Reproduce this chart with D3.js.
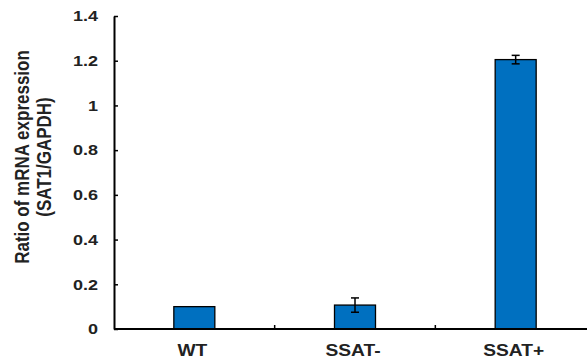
<!DOCTYPE html>
<html>
<head>
<meta charset="utf-8">
<script src="https://cdn.jsdelivr.net/npm/d3@7"></script>
<style>
  body { margin: 0; background: #fff; }
  svg { display: block; font-family: "Liberation Sans", Arial, sans-serif; font-weight: bold; }
</style>
</head>
<body>
<svg width="587" height="361"></svg>
<script>
var categories = ["WT", "SSAT-", "SSAT+"];
var values = [0.1, 0.107, 1.205];
var errors = [0, 0.032, 0.019];
var yTicks = [0, 0.2, 0.4, 0.6, 0.8, 1, 1.2, 1.4];
var yTitle = ["Ratio of mRNA expression", "(SAT1/GAPDH)"];

var margin = { top: 16, right: -9, bottom: 32, left: 114 };
var width = 587 - margin.left - margin.right;
var height = 361 - margin.top - margin.bottom;
var stretch = 1.2; // glyphs in the picture are a bit wide

var svg = d3.select("svg")
    .append("g")
    .attr("transform", "translate(" + margin.left + "," + margin.top + ")");

var x = d3.scaleBand().domain(categories).range([0, width]);
var y = d3.scaleLinear().domain([0, 1.4]).range([height, 0]);
var barW = 41;

// bars
svg.selectAll("rect.bar")
    .data(values)
    .enter().append("rect")
    .attr("class", "bar")
    .attr("x", function (d, i) { return x(categories[i]) + x.bandwidth() / 2 - barW / 2; })
    .attr("y", function (d) { return y(d); })
    .attr("width", barW)
    .attr("height", function (d) { return height - y(d); })
    .attr("fill", "#0070C0")
    .attr("stroke", "#000")
    .attr("stroke-width", 1.3);

// error bars
values.forEach(function (d, i) {
    if (!errors[i]) return;
    var cx = x(categories[i]) + x.bandwidth() / 2;
    var e = errors[i];
    var g = svg.append("g").attr("class", "err");
    g.append("line").attr("x1", cx).attr("x2", cx).attr("y1", y(d + e)).attr("y2", y(d - e));
    g.append("line").attr("x1", cx - 4).attr("x2", cx + 4).attr("y1", y(d + e)).attr("y2", y(d + e));
    g.append("line").attr("x1", cx - 4).attr("x2", cx + 4).attr("y1", y(d - e)).attr("y2", y(d - e));
    g.selectAll("line").attr("stroke", "#000").attr("stroke-width", 1.5);
});

// y axis
var yAxis = svg.append("g")
    .call(d3.axisLeft(y).tickValues(yTicks).tickSizeInner(-4).tickSizeOuter(0)
        .tickFormat(function (d) { return String(d); }));
yAxis.select(".domain").attr("stroke-width", 2);
yAxis.selectAll(".tick line").attr("stroke-width", 1.5);
yAxis.selectAll(".tick text")
    .attr("x", 0)
    .attr("transform", "translate(-16,0) scale(" + stretch + ",1)")
    .attr("font-size", 15).attr("font-weight", "bold").attr("fill", "#222")
    .attr("font-family", "Liberation Sans, Arial, sans-serif");

// x axis
var xTickPos = categories.slice(1).map(function (c) { return x(c); });
var xAxis = svg.append("g")
    .attr("transform", "translate(0," + height + ")");
xAxis.append("line").attr("x1", 0).attr("x2", width).attr("stroke", "#000").attr("stroke-width", 2);
xAxis.selectAll("line.t")
    .data(xTickPos)
    .enter().append("line")
    .attr("class", "t")
    .attr("x1", function (d) { return d; })
    .attr("x2", function (d) { return d; })
    .attr("y1", 0).attr("y2", -4)
    .attr("stroke", "#000").attr("stroke-width", 1.5);
xAxis.selectAll("text")
    .data(categories)
    .enter().append("text")
    .attr("transform", function (d) {
        return "translate(" + (x(d) + x.bandwidth() / 2 - 2) + ",27) scale(" + stretch + ",1)";
    })
    .attr("text-anchor", "middle")
    .attr("font-size", 16)
    .attr("fill", "#222")
    .text(function (d) { return d; });

// y title
var t = d3.select("svg").append("text")
    .attr("transform", "translate(29,157) scale(" + stretch + ",1) rotate(-90)")
    .attr("text-anchor", "middle")
    .attr("font-size", 17)
    .attr("fill", "#222");
t.append("tspan").attr("x", 0).attr("dy", 0).text(yTitle[0]);
t.append("tspan").attr("x", 0).attr("dy", 18).text(yTitle[1]);
</script>
</body>
</html>
